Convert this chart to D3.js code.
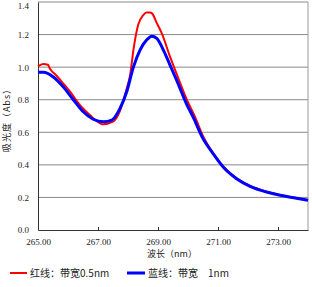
<!DOCTYPE html>
<html><head><meta charset="utf-8">
<script src="https://cdn.jsdelivr.net/npm/d3@7"></script>
<style>
body{margin:0;background:#fff;}
svg{display:block;}
</style></head><body>
<svg id="c" width="312" height="287"></svg>
<script>
const redWl  = [265.00,265.17,265.33,265.40,265.62,265.84,266.07,266.40,266.73,267.07,267.17,267.50,267.73,267.96,268.07,268.18,268.34,268.51,268.62,268.73,268.80,268.96,269.12,269.40,269.68,269.96,270.23,270.51,270.84,271.18,271.62,272.07,272.62,273.07,273.62,274.00];
const redAbs = [1.005,1.020,1.015,0.990,0.947,0.900,0.849,0.767,0.706,0.655,0.649,0.665,0.730,0.870,0.950,1.105,1.260,1.320,1.335,1.335,1.330,1.270,1.210,1.064,0.930,0.800,0.696,0.573,0.471,0.389,0.317,0.270,0.235,0.215,0.195,0.184];
const blueWl  = [265.00,265.18,265.51,265.84,266.18,266.51,266.84,267.18,267.46,267.73,267.96,268.18,268.40,268.62,268.79,268.96,269.18,269.40,269.62,269.96,270.18,270.46,270.84,271.18,271.62,272.07,272.62,273.07,273.62,274.00];
const blueAbs = [0.968,0.968,0.940,0.880,0.800,0.726,0.680,0.665,0.675,0.745,0.850,1.000,1.105,1.166,1.190,1.177,1.105,1.013,0.920,0.770,0.690,0.575,0.468,0.385,0.315,0.268,0.233,0.213,0.195,0.182];
const xTicks = [265,267,269,271,273];
const yTicks = [0,0.2,0.4,0.6,0.8,1.0,1.2,1.4];
const seriesNames = ["红线：带宽0.5nm","蓝线：带宽　1nm"];
const xTitle = "波长（nm）";
const yTitle = "吸光度（Abs）";

const svg = d3.select("#c");
const L=38, R=308, T=2, B=230;
const x = d3.scaleLinear().domain([265,274]).range([L,R]);
const y = d3.scaleLinear().domain([0,1.4]).range([B,T]);
const numFont = "'Liberation Serif', serif";
const cjkFont = "'Noto Sans CJK SC', sans-serif";

// gridlines
svg.append("g").selectAll("line").data(yTicks.filter(d=>d>0)).join("line")
  .attr("x1",L).attr("x2",R).attr("y1",d=>y(d)).attr("y2",d=>y(d))
  .attr("stroke","#8a8a8a").attr("stroke-width",1);
// right border
svg.append("line").attr("x1",R).attr("x2",R).attr("y1",T).attr("y2",B).attr("stroke","#9a9a9a");

// y axis
const ya = svg.append("g").attr("transform",`translate(${L},0)`)
  .call(d3.axisLeft(y).tickValues(yTicks).tickSize(0).tickPadding(9).tickFormat(d3.format(".1f")));
ya.select(".domain").attr("stroke","#333");
ya.selectAll("text").attr("font-family",numFont).attr("font-size",9).attr("fill","#222")
  .attr("dy",d=>d===1.4?"0.75em":"0.32em");

// x axis
const xa = svg.append("g").attr("transform",`translate(0,${B})`)
  .call(d3.axisBottom(x).tickValues(xTicks).tickSizeInner(-3).tickSizeOuter(0).tickPadding(9).tickFormat(d3.format(".2f")));
xa.select(".domain").attr("stroke","#333");
xa.selectAll(".tick line").attr("stroke","#333");
xa.selectAll("text").attr("font-family",numFont).attr("font-size",9).attr("fill","#222");

// lines
const line = d3.line().x(d=>x(d[0])).y(d=>y(d[1])).curve(d3.curveMonotoneX);
svg.append("path").datum(redWl.map((w,i)=>[w,redAbs[i]]))
  .attr("d",line).attr("fill","none").attr("stroke","#ff0000").attr("stroke-width",2);
svg.append("path").datum(blueWl.map((w,i)=>[w,blueAbs[i]]))
  .attr("d",line).attr("fill","none").attr("stroke","#0000ff").attr("stroke-width",3);

// titles
svg.append("text").attr("x",172).attr("y",257).attr("text-anchor","middle")
  .attr("font-family",cjkFont).attr("font-size",9).attr("fill","#222").text(xTitle);
svg.append("text").attr("transform","translate(10,118) rotate(-90)").attr("text-anchor","middle")
  .attr("font-family",cjkFont).attr("font-size",9).attr("letter-spacing",1).attr("fill","#222").text(yTitle);

// legend
const lg = [{c:"#ff0000",w:2,x1:10,x2:27,tx:30},{c:"#0000ff",w:3,x1:127,x2:145,tx:148}];
lg.forEach((d,i)=>{
  svg.append("line").attr("x1",d.x1).attr("x2",d.x2).attr("y1",273).attr("y2",273).attr("stroke",d.c).attr("stroke-width",d.w);
  svg.append("text").attr("x",d.tx).attr("y",277).attr("font-family",cjkFont).attr("font-size",10).attr("fill","#222").text(seriesNames[i]);
});
</script>
</body></html>
